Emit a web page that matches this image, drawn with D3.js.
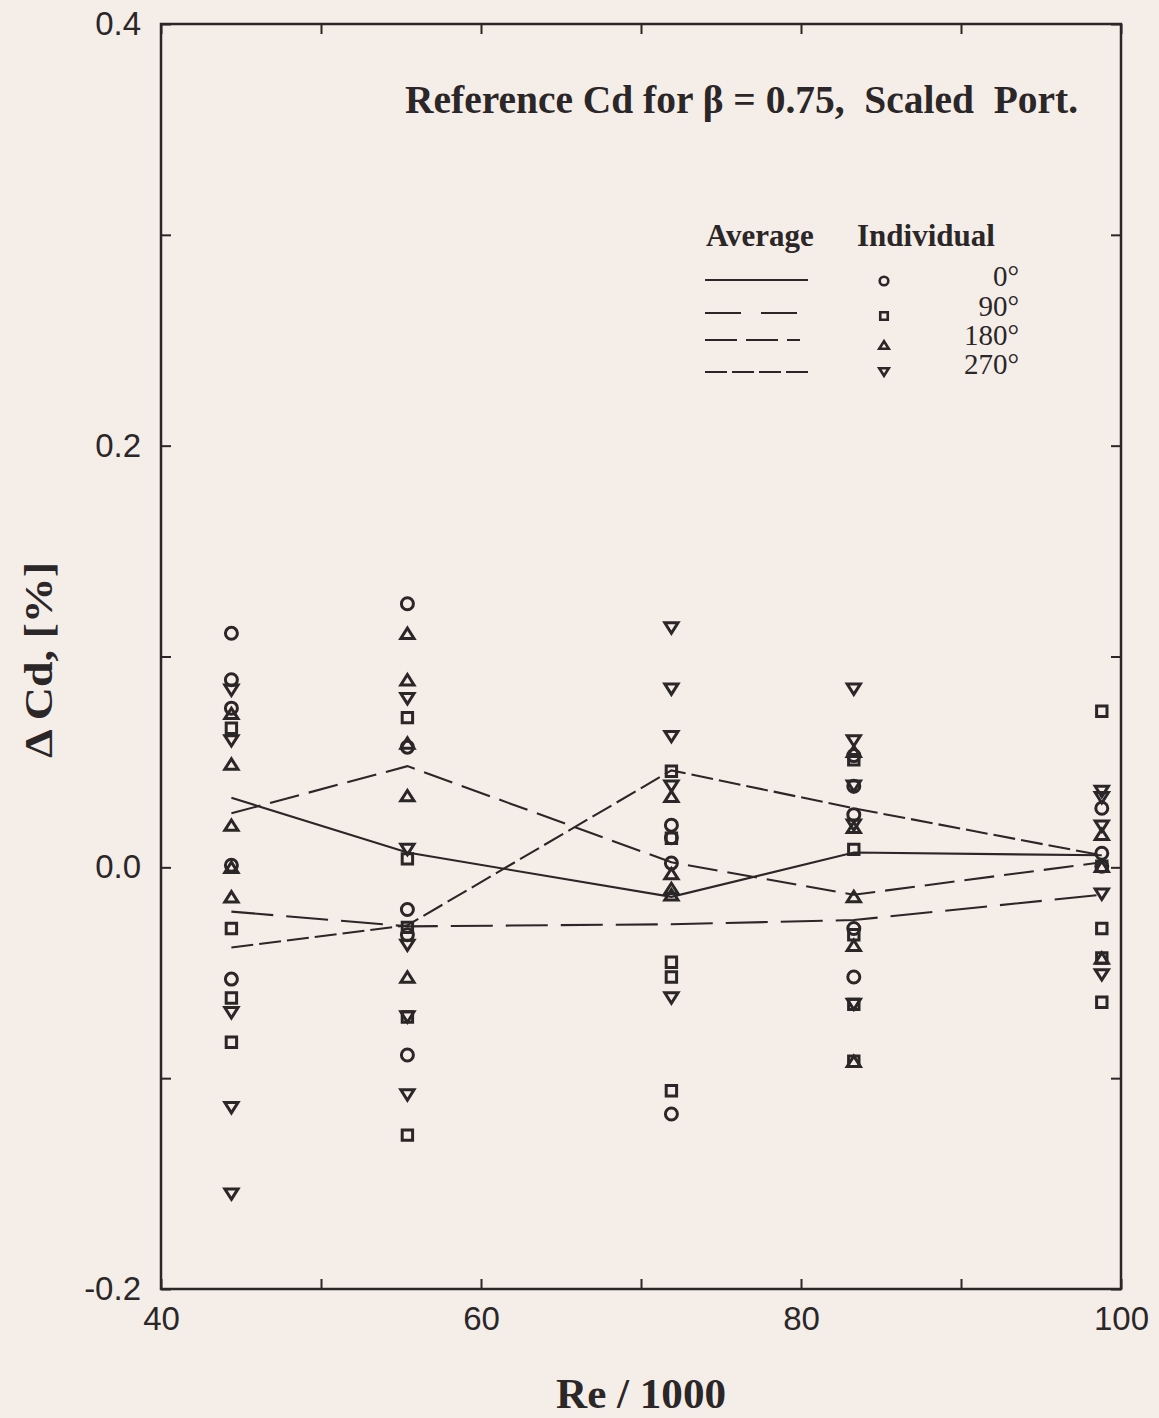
<!DOCTYPE html>
<html>
<head>
<meta charset="utf-8">
<script src="https://cdn.jsdelivr.net/npm/d3@7"></script>
<style>
  html, body { margin: 0; padding: 0; background: #f5eee8; }
  svg { display: block; }
</style>
</head>
<body>
<svg id="chart" width="1159" height="1418"></svg>
<script>
// Reynolds number stations (Re / 1000)
const reStations = [44.4, 55.4, 71.9, 83.3, 98.8];

// Individual ΔCd readings [%], one list per station, per tap orientation
const individual0 = [
  [0.111, 0.089, 0.0755, 0.001, -0.053],
  [0.125, 0.057, -0.020, -0.032, -0.089],
  [0.020, 0.014, 0.002, -0.117],
  [0.053, 0.0385, 0.025, -0.029, -0.052],
  [0.028, 0.0067, 0.0005]
];
const individual90 = [
  [0.066, -0.029, -0.062, -0.083],
  [0.071, 0.004, -0.0285, -0.071, -0.127],
  [0.0456, 0.0138, -0.045, -0.052, -0.106],
  [0.051, 0.0085, -0.032, -0.065, -0.092],
  [0.074, 0.0005, -0.029, -0.043, -0.064]
];
const individual180 = [
  [0.073, 0.049, 0.020, 0.000, -0.014],
  [0.111, 0.089, 0.059, 0.034, -0.052],
  [0.0337, -0.003, -0.010, -0.013],
  [0.055, 0.019, -0.0138, -0.037, -0.092],
  [0.0157, 0.0005, -0.043]
];
const individual270 = [
  [0.084, 0.060, -0.069, -0.114, -0.155],
  [0.080, 0.0085, -0.037, -0.071, -0.108],
  [0.1135, 0.0845, 0.062, 0.0385, -0.062],
  [0.0845, 0.060, 0.0385, 0.020, -0.065],
  [0.036, 0.033, 0.0195, -0.0128, -0.051]
];

// Averages per station
const average0   = [0.033, 0.007, -0.014, 0.007, 0.0057];
const average90  = [-0.021, -0.028, -0.027, -0.025, -0.013];
const average180 = [0.0256, 0.048, 0.0024, -0.013, 0.0024];
const average270 = [-0.038, -0.0275, 0.046, 0.028, 0.0057];

// Axis ticks
const xTicks = [40, 50, 60, 70, 80, 90, 100];
const xLabels = [40, 60, 80, 100];
const yTicks = [-0.2, -0.1, 0.0, 0.1, 0.2, 0.3, 0.4];
const yLabels = [-0.2, 0.0, 0.2, 0.4];

const seriesNames = ["0°", "90°", "180°", "270°"];

const ink = "#2b2627";
const svg = d3.select("#chart");
const W = 1159, H = 1418;
svg.append("rect").attr("width", W).attr("height", H).attr("fill", "#f5eee8");

const plot = { left: 161, right: 1121, top: 24, bottom: 1289 };

const x = d3.scaleLinear().domain([40, 100]).range([plot.left, plot.right]);
const y = d3.scaleLinear().domain([-0.2, 0.4]).range([plot.bottom, plot.top]);

const series = [
  { name: seriesNames[0], ind: individual0,   avg: average0,   dash: null,    legendDash: null,           shape: "circle" },
  { name: seriesNames[1], ind: individual90,  avg: average90,  dash: "42,13", legendDash: "36,20",        shape: "square" },
  { name: seriesNames[2], ind: individual180, avg: average180, dash: "30,10", legendDash: "32,9,32,9,13", shape: "up" },
  { name: seriesNames[3], ind: individual270, avg: average270, dash: "22,6",  legendDash: "22,5",         shape: "down" }
];

// marker shapes; k scales the outline (1 = plot markers)
function markerPath(shape, k) {
  const p = d3.path();
  if (shape === "circle") {
    const r = 6 * k;
    p.moveTo(r, 0); p.arc(0, 0, r, 0, 2 * Math.PI);
  } else if (shape === "square") {
    const h = 5.2 * k; p.rect(-h, -h, 2 * h, 2 * h);
  } else if (shape === "up") {
    const w = 6.6 * k, h = 5.2 * k;
    p.moveTo(0, -h); p.lineTo(w, h); p.lineTo(-w, h); p.closePath();
  } else {
    const w = 6.6 * k, h = 5.2 * k;
    p.moveTo(0, h); p.lineTo(w, -h); p.lineTo(-w, -h); p.closePath();
  }
  return p.toString();
}

// axes with inward ticks
const fmtY = v => v.toFixed(1);
const axisG = svg.append("g").attr("class", "axes");

const leftAxis = d3.axisLeft(y).tickValues(yTicks).tickSize(-10).tickPadding(20)
  .tickFormat(v => yLabels.some(l => Math.abs(l - v) < 1e-9) ? fmtY(v) : "");
const rightAxis = d3.axisRight(y).tickValues(yTicks).tickSize(-10).tickFormat("");
const bottomAxis = d3.axisBottom(x).tickValues(xTicks).tickSize(-10).tickPadding(18)
  .tickFormat(v => xLabels.includes(v) ? String(v) : "");
const topAxis = d3.axisTop(x).tickValues(xTicks).tickSize(-10).tickFormat("");

function styleAxis(g) {
  g.select(".domain").remove();
  g.selectAll(".tick line").attr("stroke", ink).attr("stroke-width", 2);
  g.selectAll(".tick text").attr("fill", ink)
    .style("font-family", "'Liberation Sans', Arial, sans-serif")
    .style("font-size", "33px");
}
axisG.append("g").attr("transform", `translate(${plot.left},0)`).call(leftAxis).call(styleAxis);
axisG.append("g").attr("transform", `translate(${plot.right},0)`).call(rightAxis).call(styleAxis);
axisG.append("g").attr("transform", `translate(0,${plot.bottom})`).call(bottomAxis).call(styleAxis);
axisG.append("g").attr("transform", `translate(0,${plot.top})`).call(topAxis).call(styleAxis);

// frame
svg.append("rect")
  .attr("x", plot.left).attr("y", plot.top)
  .attr("width", plot.right - plot.left).attr("height", plot.bottom - plot.top)
  .attr("fill", "none").attr("stroke", ink).attr("stroke-width", 2.5);

// average lines
const line = d3.line().x((d, i) => x(reStations[i])).y(d => y(d));
series.forEach(s => {
  svg.append("path")
    .datum(s.avg)
    .attr("d", line)
    .attr("fill", "none")
    .attr("stroke", ink)
    .attr("stroke-width", 2.1)
    .attr("stroke-dasharray", s.dash);
});

// individual points
series.forEach(s => {
  const pts = [];
  s.ind.forEach((col, i) => col.forEach(v => pts.push({ re: reStations[i], v })));
  svg.append("g").selectAll("path").data(pts).join("path")
    .attr("transform", d => `translate(${x(d.re)},${y(d.v)})`)
    .attr("d", markerPath(s.shape, 1))
    .attr("fill", "none")
    .attr("stroke", ink)
    .attr("stroke-width", 3)
    .attr("stroke-linejoin", "miter");
});

const serif = "'Liberation Serif', 'Times New Roman', serif";

// title
svg.append("text")
  .attr("x", 405).attr("y", 113)
  .attr("textLength", 673).attr("lengthAdjust", "spacingAndGlyphs")
  .style("white-space", "pre")
  .style("font-family", serif)
  .style("font-weight", "bold").style("font-size", "39px")
  .attr("fill", ink)
  .text("Reference Cd for β = 0.75,  Scaled  Port.");

// legend
const legend = svg.append("g");
legend.append("text").attr("x", 706).attr("y", 246)
  .style("font-family", serif).style("font-weight", "bold").style("font-size", "31px")
  .attr("fill", ink).text("Average");
legend.append("text").attr("x", 857).attr("y", 246)
  .style("font-family", serif).style("font-weight", "bold").style("font-size", "31px")
  .attr("fill", ink).text("Individual");

const rowLineY = [280, 313, 340, 372];
const rowMarkY = [281, 316, 345, 372];
const rowTextY = [286, 316, 345, 374];
series.forEach((s, i) => {
  legend.append("line")
    .attr("x1", 705).attr("x2", 808)
    .attr("y1", rowLineY[i]).attr("y2", rowLineY[i])
    .attr("stroke", ink).attr("stroke-width", 2)
    .attr("stroke-dasharray", s.legendDash);
  legend.append("path")
    .attr("transform", `translate(884,${rowMarkY[i]})`)
    .attr("d", markerPath(s.shape, 0.72))
    .attr("fill", "none").attr("stroke", ink).attr("stroke-width", 2.6);
  legend.append("text")
    .attr("x", 1019).attr("y", rowTextY[i]).attr("text-anchor", "end")
    .style("font-family", serif).style("font-size", "29px")
    .attr("fill", ink).text(s.name);
});

// axis titles
svg.append("text")
  .attr("x", (plot.left + plot.right) / 2).attr("y", 1408)
  .attr("text-anchor", "middle")
  .attr("textLength", 170).attr("lengthAdjust", "spacingAndGlyphs")
  .style("font-family", serif).style("font-weight", "bold").style("font-size", "42px")
  .attr("fill", ink).text("Re / 1000");

svg.append("text")
  .attr("transform", `translate(52,660) rotate(-90)`)
  .attr("text-anchor", "middle")
  .attr("textLength", 196).attr("lengthAdjust", "spacingAndGlyphs")
  .style("font-family", serif).style("font-weight", "bold").style("font-size", "41px")
  .attr("fill", ink).text("Δ Cd, [%]");
</script>
</body>
</html>
